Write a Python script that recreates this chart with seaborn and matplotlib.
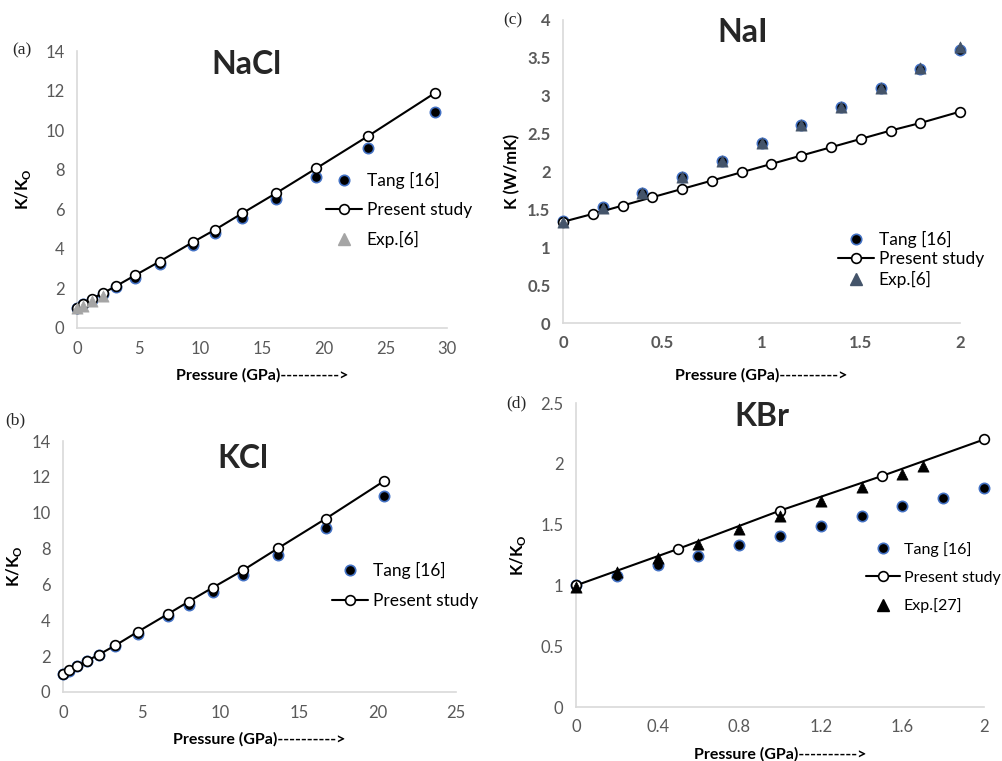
import numpy as np
import pandas as pd
import matplotlib
matplotlib.use("Agg")
import matplotlib.pyplot as plt
import seaborn as sns
from matplotlib.lines import Line2D

sns.set_theme(style="white")
plt.rcParams['font.family'] = ['Lato', 'DejaVu Sans']
plt.rcParams['mathtext.fontset'] = 'custom'
plt.rcParams['mathtext.bf'] = 'Lato:bold'
plt.rcParams['mathtext.rm'] = 'Lato'

# ---------------- data ----------------
# (a) NaCl
nacl_tang_x = [0, 0.5, 1.2, 2.1, 3.2, 4.7, 6.7, 9.4, 11.2, 13.4, 16.1, 19.4, 23.6, 29.0]
nacl_tang_y = [1.0, 1.19, 1.41, 1.7, 2.07, 2.55, 3.23, 4.2, 4.81, 5.58, 6.52, 7.65, 9.09, 10.92]
nacl_pres_x = [0, 0.5, 1.2, 2.1, 3.2, 4.7, 6.7, 9.4, 11.2, 13.4, 16.1, 19.4, 23.6, 29.0]
nacl_pres_y = [1.0, 1.23, 1.48, 1.76, 2.13, 2.66, 3.36, 4.34, 4.97, 5.8, 6.8, 8.07, 9.7, 11.87]
nacl_exp_x = [0, 0.5, 1.2, 2.1]
nacl_exp_y = [1.0, 1.13, 1.35, 1.6]

# (c) NaI
nai_tang_x = [0, 0.2, 0.4, 0.6, 0.8, 1.0, 1.2, 1.4, 1.6, 1.8, 2.0]
nai_tang_y = [1.34, 1.53, 1.72, 1.93, 2.14, 2.37, 2.61, 2.85, 3.10, 3.35, 3.61]
nai_pres_x = [0, 0.15, 0.3, 0.45, 0.6, 0.75, 0.9, 1.05, 1.2, 1.35, 1.5, 1.65, 1.8, 2.0]
nai_pres_y = [1.336, 1.44, 1.55, 1.66, 1.77, 1.88, 1.99, 2.10, 2.21, 2.32, 2.43, 2.54, 2.64, 2.79]
nai_exp_x = [0, 0.2, 0.4, 0.6, 0.8, 1.0, 1.2, 1.4, 1.6, 1.8, 2.0]
nai_exp_y = [1.33, 1.52, 1.71, 1.93, 2.14, 2.37, 2.61, 2.85, 3.10, 3.36, 3.64]

# (b) KCl
kcl_tang_x = [0, 0.38, 0.89, 1.51, 2.27, 3.33, 4.74, 6.71, 7.99, 9.52, 11.43, 13.7, 16.72, 20.41]
kcl_tang_y = [1.0, 1.19, 1.43, 1.71, 2.06, 2.57, 3.25, 4.22, 4.83, 5.6, 6.54, 7.66, 9.13, 10.91]
kcl_pres_x = [0, 0.38, 0.89, 1.51, 2.27, 3.33, 4.74, 6.71, 7.99, 9.52, 11.43, 13.7, 16.72, 20.41]
kcl_pres_y = [1.0, 1.21, 1.45, 1.73, 2.08, 2.6, 3.35, 4.37, 5.04, 5.82, 6.78, 8.03, 9.67, 11.76]

# (d) KBr
kbr_tang_x = [0, 0.2, 0.4, 0.6, 0.8, 1.0, 1.2, 1.4, 1.6, 1.8, 2.0]
kbr_tang_y = [1.0, 1.08, 1.165, 1.245, 1.33, 1.41, 1.49, 1.57, 1.65, 1.72, 1.80]
kbr_pres_x = [0, 0.5, 1.0, 1.5, 2.0]
kbr_pres_y = [1.0, 1.30, 1.615, 1.90, 2.20]
kbr_exp_x = [0, 0.2, 0.4, 0.6, 0.8, 1.0, 1.2, 1.4, 1.6, 1.7]
kbr_exp_y = [0.99, 1.11, 1.225, 1.34, 1.46, 1.57, 1.69, 1.81, 1.92, 1.98]

labels_tang = "Tang [16]"
labels_pres = "Present study"

BLUE = "#4472C4"
AXC = "#D9D9D9"
TICKC = "#595959"

fig = plt.figure(figsize=(10.03, 7.61), dpi=100)
W, H = 1003.0, 761.0

def px_axes(l, t, r, b):
    return fig.add_axes([l / W, 1 - b / H, (r - l) / W, (b - t) / H])

def style(ax, xlim, xticks, ylim, yticks, bold_ticks=False):
    ax.set_xlim(*xlim)
    ax.set_ylim(*ylim)
    ax.set_xticks(xticks)
    ax.set_yticks(yticks)
    ax.set_xticklabels(["%g" % v for v in xticks])
    ax.set_yticklabels(["%g" % v for v in yticks])
    for s in ["top", "right"]:
        ax.spines[s].set_visible(False)
    for s in ["left", "bottom"]:
        ax.spines[s].set_color(AXC)
        ax.spines[s].set_linewidth(1.2)
    ax.tick_params(axis="both", direction="out", length=4, width=1, color=AXC,
                   labelcolor=TICKC, labelsize=12, pad=5)
    if bold_ticks:
        for lab in ax.get_xticklabels() + ax.get_yticklabels():
            lab.set_fontweight("bold")
    ax.grid(False)

def tang(ax, x, y):
    sns.scatterplot(x=x, y=y, ax=ax, color="black", edgecolor=BLUE, linewidth=1.2,
                    s=55, marker="o", zorder=3, clip_on=False)

def pres(ax, x, y):
    sns.lineplot(x=x, y=y, ax=ax, color="black", linewidth=1.5, marker="o",
                 markersize=7, markerfacecolor="white", markeredgecolor="black",
                 markeredgewidth=1.2, estimator=None, zorder=4, clip_on=False)

def exp(ax, x, y, c):
    sns.scatterplot(x=x, y=y, ax=ax, color=c, edgecolor=c, linewidth=0.5,
                    s=65, marker="^", zorder=5, clip_on=False)

def legend(ax, left, top, spacing, handles, names, size=12.5):
    ax.legend(handles, names, loc="upper left", bbox_to_anchor=(left / W, 1 - top / H),
              bbox_transform=fig.transFigure, frameon=False, borderpad=0, borderaxespad=0,
              handlelength=2.1, handletextpad=0.25, labelspacing=spacing,
              prop={"family": "Lato", "size": size}, labelcolor="black")

h_tang = Line2D([], [], linestyle="none", marker="o", markersize=7.5,
                markerfacecolor="black", markeredgecolor=BLUE, markeredgewidth=1.2)
h_pres = Line2D([], [], color="black", linewidth=1.5, marker="o", markersize=7,
                markerfacecolor="white", markeredgecolor="black", markeredgewidth=1.2)
def h_exp(c):
    return Line2D([], [], linestyle="none", marker="^", markersize=8,
                  markerfacecolor=c, markeredgecolor=c)

xlab = "Pressure (GPa)---------->"
ylab_k = r"K/K$_\mathbf{O}$"
TSIZE = 23

# ---------- (a) NaCl ----------
ax = px_axes(77, 51, 447, 328)
tang(ax, nacl_tang_x, nacl_tang_y)
pres(ax, nacl_pres_x, nacl_pres_y)
exp(ax, nacl_exp_x, nacl_exp_y, "#A5A5A5")
style(ax, (0, 30), [0, 5, 10, 15, 20, 25, 30], (0, 14), [0, 2, 4, 6, 8, 10, 12, 14])
ax.set_xlabel(xlab, fontsize=11.5, fontweight="bold", color="black", labelpad=8)
ax.set_ylabel(ylab_k, fontsize=12, fontweight="bold", color="black", labelpad=9)
legend(ax, 326, 172, 0.75, [h_tang, h_pres, h_exp("#A5A5A5")], [labels_tang, labels_pres, "Exp.[6]"])
fig.text(246 / W, 1 - 64 / H, "NaCl", fontsize=TSIZE, fontweight="bold", ha="center", va="center")
fig.text(12 / W, 1 - 50 / H, "(a)", family="Liberation Serif", fontsize=12.5, ha="left", va="center")

# ---------- (c) NaI ----------
ax = px_axes(563, 20, 960, 323)
tang(ax, nai_tang_x, nai_tang_y)
pres(ax, nai_pres_x, nai_pres_y)
exp(ax, nai_exp_x, nai_exp_y, "#44546A")
style(ax, (0, 2), [0, 0.5, 1, 1.5, 2], (0, 4), [0, 0.5, 1, 1.5, 2, 2.5, 3, 3.5, 4], bold_ticks=True)
ax.set_xlabel(xlab, fontsize=11.5, fontweight="bold", color="black", labelpad=12)
ax.set_ylabel("K (W/mK)", fontsize=12, fontweight="bold", color="black", labelpad=5)
legend(ax, 838, 231, 0.2, [h_tang, h_pres, h_exp("#44546A")], [labels_tang, labels_pres, "Exp.[6]"])
fig.text(743 / W, 1 - 33 / H, "NaI", fontsize=TSIZE, fontweight="bold", ha="center", va="center")
fig.text(503 / W, 1 - 20 / H, "(c)", family="Liberation Serif", fontsize=12.5, ha="left", va="center")

# ---------- (b) KCl ----------
ax = px_axes(63, 441, 456, 692)
tang(ax, kcl_tang_x, kcl_tang_y)
pres(ax, kcl_pres_x, kcl_pres_y)
style(ax, (0, 25), [0, 5, 10, 15, 20, 25], (0, 14), [0, 2, 4, 6, 8, 10, 12, 14])
ax.set_xlabel(xlab, fontsize=11.5, fontweight="bold", color="black", labelpad=8)
ax.set_ylabel(ylab_k, fontsize=12, fontweight="bold", color="black", labelpad=5)
legend(ax, 332, 562, 0.8, [h_tang, h_pres], [labels_tang, labels_pres])
fig.text(243 / W, 1 - 458 / H, "KCl", fontsize=TSIZE, fontweight="bold", ha="center", va="center")
fig.text(5 / W, 1 - 420 / H, "(b)", family="Liberation Serif", fontsize=12.5, ha="left", va="center")

# ---------- (d) KBr ----------
ax = px_axes(576, 403, 984, 707)
tang(ax, kbr_tang_x, kbr_tang_y)
pres(ax, kbr_pres_x, kbr_pres_y)
exp(ax, kbr_exp_x, kbr_exp_y, "black")
style(ax, (0, 2), [0, 0.4, 0.8, 1.2, 1.6, 2], (0, 2.5), [0, 0.5, 1, 1.5, 2, 2.5])
ax.set_xlabel(xlab, fontsize=11.5, fontweight="bold", color="black", labelpad=8)
ax.set_ylabel(ylab_k, fontsize=12, fontweight="bold", color="black", labelpad=9)
legend(ax, 866, 542, 0.85, [h_tang, h_pres, h_exp("black")], [labels_tang, labels_pres, "Exp.[27]"], size=11.5)
fig.text(762 / W, 1 - 417 / H, "KBr", fontsize=TSIZE, fontweight="bold", ha="center", va="center")
fig.text(506 / W, 1 - 403 / H, "(d)", family="Liberation Serif", fontsize=12.5, ha="left", va="center")

fig.savefig("out.png", dpi=100, facecolor="white")
